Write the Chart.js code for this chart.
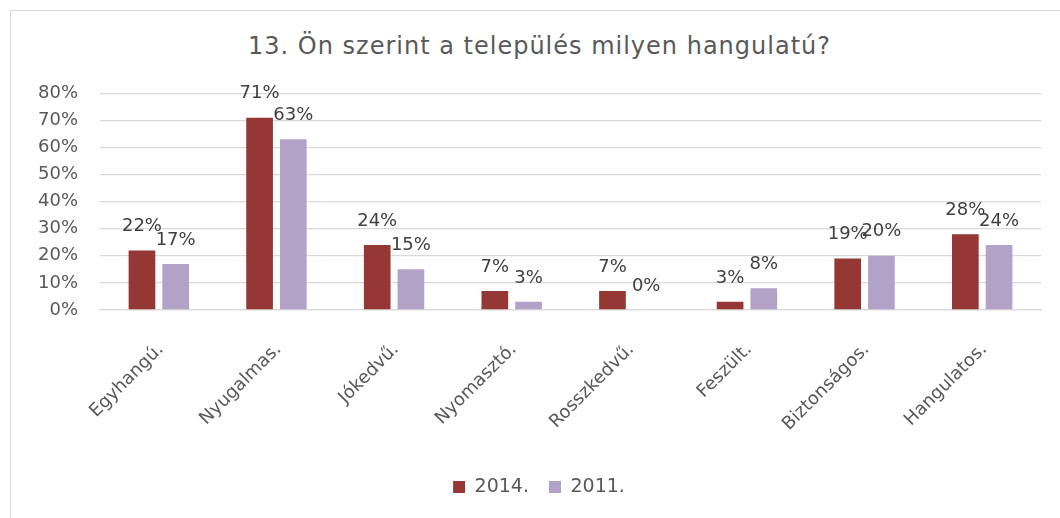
<!DOCTYPE html>
<html>
<head>
<meta charset="utf-8">
<script src="https://cdn.jsdelivr.net/npm/chart.js@4.4.1/dist/chart.umd.min.js"></script>
<style>
  html, body { margin: 0; padding: 0; background: #ffffff; overflow: hidden; }
  body { width: 1060px; height: 518px; position: relative; }
  #frame { position: absolute; left: 10px; top: 10px; width: 1100px; height: 600px; border: 1px solid #d9d9d9; box-sizing: border-box; }
  #title { position: absolute; left: 0; top: 34px; width: 1079px; text-align: center; font-family: "DejaVu Sans", sans-serif; font-size: 24px; line-height: 24px; letter-spacing: 1px; color: #595959; white-space: nowrap; }
  #wrap { position: absolute; left: 0; top: 0; width: 1060px; height: 518px; }
</style>
</head>
<body>
<div id="frame"></div>
<div id="title">13. Ön szerint a település milyen hangulatú?</div>
<div id="wrap"><canvas id="c" width="1060" height="518"></canvas></div>
<script>
const categories = ['Egyhangú.', 'Nyugalmas.', 'Jókedvű.', 'Nyomasztó.', 'Rosszkedvű.', 'Feszült.', 'Biztonságos.', 'Hangulatos.'];
const values2014 = [22, 71, 24, 7, 7, 3, 19, 28];
const values2011 = [17, 63, 15, 3, 0, 8, 20, 24];
const seriesLabels = ['2014.', '2011.'];
const yTicks = [0, 10, 20, 30, 40, 50, 60, 70, 80];

const FONT = '"DejaVu Sans", sans-serif';

const dataLabels = {
  id: 'dataLabels',
  afterDatasetsDraw(chart) {
    const ctx = chart.ctx;
    ctx.save();
    ctx.font = '18px ' + FONT;
    ctx.fillStyle = '#404040';
    ctx.textAlign = 'center';
    ctx.textBaseline = 'middle';
    chart.data.datasets.forEach((ds, i) => {
      chart.getDatasetMeta(i).data.forEach((el, j) => {
        ctx.fillText(ds.data[j] + '%', el.x, el.y - 24);
      });
    });
    ctx.restore();
  }
};

new Chart(document.getElementById('c'), {
  type: 'bar',
  data: {
    labels: categories,
    datasets: [
      { label: seriesLabels[0], data: values2014, backgroundColor: '#953735', borderWidth: 0 },
      { label: seriesLabels[1], data: values2011, backgroundColor: '#b3a2c7', borderWidth: 0 }
    ]
  },
  options: {
    responsive: false,
    animation: false,
    events: [],
    categoryPercentage: 0.573,
    barPercentage: 0.792,
    layout: { padding: { top: 93.3, left: 37, right: 19, bottom: 11.5 } },
    plugins: {
      title: { display: false },
      tooltip: { enabled: false },
      legend: {
        position: 'bottom',
        labels: {
          boxWidth: 12,
          boxHeight: 12,
          padding: 20,
          color: '#595959',
          font: { family: FONT, size: 19 }
        }
      }
    },
    scales: {
      x: {
        grid: { display: false, drawTicks: false },
        border: { display: true, color: '#d9d9d9', width: 1.3 },
        ticks: {
          color: '#595959',
          font: { family: FONT, size: 18 },
          maxRotation: 45,
          minRotation: 45,
          autoSkip: false,
          padding: 29,
          labelOffset: 2
        },
        afterFit(scale) { scale.height = 147.5; }
      },
      y: {
        min: 0,
        max: 80,
        afterBuildTicks(scale) { scale.ticks = yTicks.map(v => ({ value: v })); },
        grid: { color: '#d9d9d9', lineWidth: 1.3, drawTicks: false },
        border: { display: false },
        ticks: {
          color: '#595959',
          font: { family: FONT, size: 18 },
          padding: 22,
          callback: (v) => v + '%'
        },
        afterFit(scale) { scale.width = 63; }
      }
    }
  },
  plugins: [dataLabels]
});
</script>
</body>
</html>
